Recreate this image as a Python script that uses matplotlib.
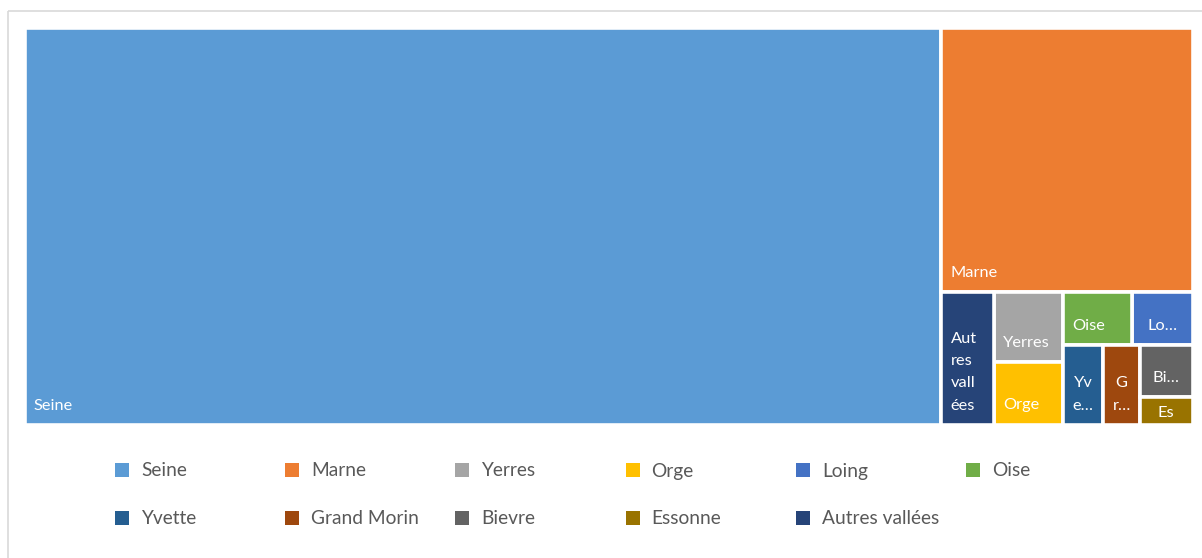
import matplotlib
matplotlib.use("Agg")
import matplotlib.pyplot as plt
from matplotlib.patches import Rectangle

# ---------- Data ----------
rivers = ["Seine", "Marne", "Yerres", "Orge", "Loing", "Oise",
          "Yvette", "Grand Morin", "Bievre", "Essonne", "Autres vallées"]
shares = [785.1, 143.2, 10.3, 9.3, 6.9, 7.9, 6.9, 6.3, 5.9, 3.1, 15.1]
# text that fits inside each tile (wrapped / truncated like the office renderer)
tile_labels = ["Seine", "Marne", "Yerres", "Orge", "Lo…", "Oise",
               "Yv\ne…", "G\nr…", "Bi…", "Es", "Aut\nres\nvall\nées"]
colors = ["#5B9BD5", "#ED7D31", "#A5A5A5", "#FFC000", "#4472C4", "#70AD47",
          "#255E91", "#9E480E", "#636363", "#997300", "#264478"]

# slice-and-dice tree: "h" = children side by side, "v" = stacked
LAYOUT = ("h", ["Seine",
                ("v", ["Marne",
                       ("h", ["Autres vallées",
                              ("v", ["Yerres", "Orge"]),
                              ("v", [("h", ["Oise", "Loing"]),
                                     ("h", ["Yvette", "Grand Morin",
                                            ("v", ["Bievre", "Essonne"])])])])])])

FONT = ["Lato", "DejaVu Sans"]
W, H = 1202, 558
value_of = dict(zip(rivers, shares))


def subtotal(node):
    if isinstance(node, str):
        return value_of[node]
    return sum(subtotal(c) for c in node[1])


def slice_layout(node, x, y, w, h, out):
    if isinstance(node, str):
        out[node] = (x, y, w, h)
        return
    direction, children = node
    total = subtotal(node)
    for child in children:
        frac = subtotal(child) / total
        if direction == "h":
            slice_layout(child, x, y, w * frac, h, out)
            x += w * frac
        else:
            slice_layout(child, x, y, w, h * frac, out)
            y += h * frac


fig = plt.figure(figsize=(W / 100, H / 100), dpi=100)
fig.patch.set_facecolor("white")

# page overlay in pixel coordinates: chart border + legend
bg = fig.add_axes([0, 0, 1, 1])
bg.set_xlim(0, W)
bg.set_ylim(H, 0)
bg.axis("off")
bg.add_patch(Rectangle((8, 11), 1300, 700, facecolor="none",
                       edgecolor="#D9D9D9", linewidth=1.2, clip_on=False))

for i, (name, col) in enumerate(zip(rivers, colors)):
    lx = 115 + (i % 6) * 170.2
    ly = 470 + (i // 6) * 48
    bg.add_patch(Rectangle((lx, ly - 7), 14, 14, facecolor=col, edgecolor="none"))
    bg.text(lx + 26, ly + 1, name, va="center", ha="left", fontsize=13.8,
            color="#595959", family=FONT)

# treemap
left, top, right, bottom = 24.5, 27.5, 1192.5, 424.5
ax = fig.add_axes([left / W, 1 - bottom / H, (right - left) / W, (bottom - top) / H])
ax.set_xlim(0, 1)
ax.set_ylim(1, 0)
ax.axis("off")

rects = {}
slice_layout(LAYOUT, 0, 0, 1, 1, rects)
px_h = bottom - top

for name, label, col in zip(rivers, tile_labels, colors):
    x, y, w, h = rects[name]
    patch = Rectangle((x, y), w, h, facecolor=col, edgecolor="white", linewidth=2.6)
    ax.add_patch(patch)
    centered = "…" in label
    tx = x + w / 2 if centered else x
    dx = 0 if centered else 9
    ha = "center" if centered else "left"
    if h * px_h < 35:
        # too short for the label: start it near the top and let the tile clip it
        txt = ax.annotate(label, (x + w / 2, y), xytext=(0, -9), textcoords="offset pixels",
                          ha="center", va="top", color="white", fontsize=11.8, family=FONT)
    else:
        txt = ax.annotate(label, (tx, y + h), xytext=(dx, 12), textcoords="offset pixels",
                          ha=ha, va="bottom", color="white", fontsize=11.8, family=FONT,
                          linespacing=1.75)
    txt.set_clip_path(patch)

fig.savefig("out.png", dpi=100, facecolor="white")
